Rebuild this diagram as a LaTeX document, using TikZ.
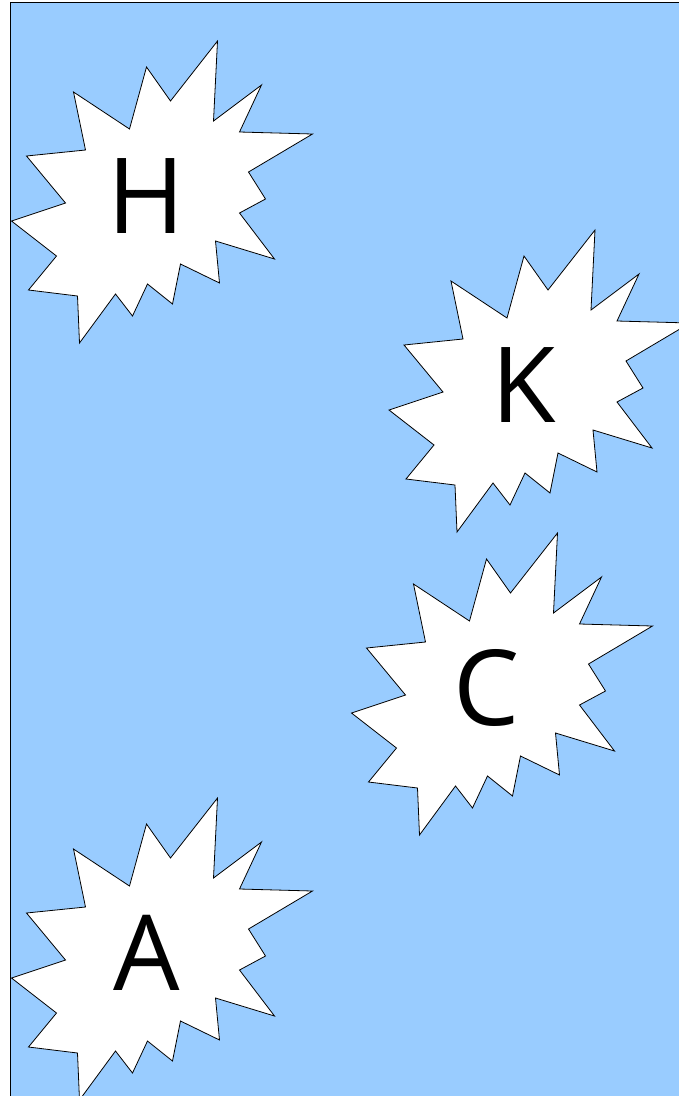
\documentclass[tikz,border=0pt]{standalone}
\usepackage{fontspec}
\setmainfont{Open Sans}
\usepackage{tikz}
\definecolor{cSky}{RGB}{153,204,255}
\tikzset{
	panel/.style ={draw=black, line width=0.9pt, fill=cSky},
	burst/.style ={draw=black, line width=0.8pt, fill=white, line join=miter},
	letter/.style={font=\fontsize{105}{105}\selectfont, inner sep=0pt},
	starburst/.pic={
		\draw[burst] (71,-155) -- (67,-75) -- (115,-111) -- (93,-64) -- (166,-62) -- (102,-24)
			-- (119,3) -- (93,17) -- (128,63) -- (69,45) -- (73,87) -- (34,68) -- (26,108)
			-- (1,88) -- (-14,120) -- (-31,98) -- (-67,147) -- (-69,100) -- (-118,94) -- (-90,60)
			-- (-135,25) -- (-81,7) -- (-120,-40) -- (-61,-46) -- (-73,-104) -- (-17,-67)
			-- (0,-129) -- (24,-95) -- cycle;
		\node[letter] (-txt) at (0,0) {#1};
	},
}
\begin{document}
\begin{tikzpicture}[x=1pt, y=-1pt]
	\useasboundingbox (0,0) rectangle (679,1096);
	\path[panel] (10,2) rectangle (700,1120);
	\pic (h) at (146.5,196) {starburst=H};
	\pic (k) at (524,385) {starburst=K};
	\pic (c) at (486.5,688) {starburst=C};
	\pic (a) at (146.5,953) {starburst=A};
\end{tikzpicture}
\end{document}
